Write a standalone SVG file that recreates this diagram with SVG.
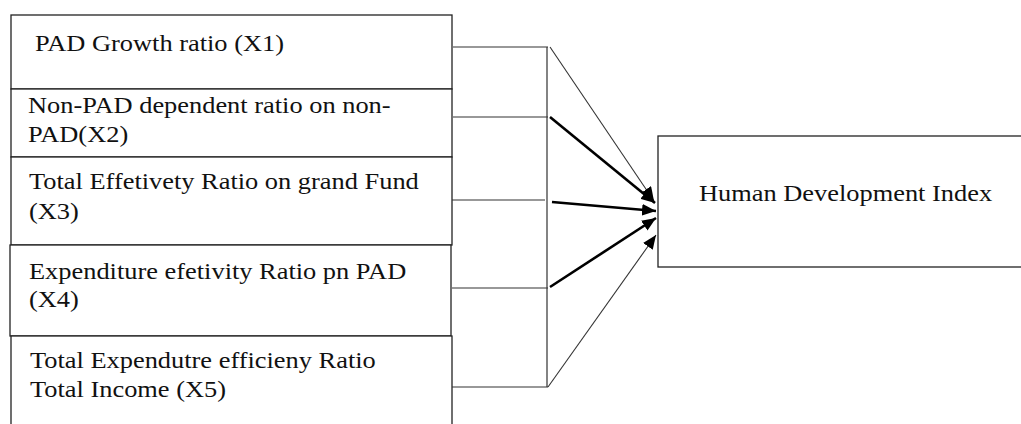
<svg xmlns="http://www.w3.org/2000/svg" width="1021" height="424" viewBox="0 0 1021 424">
  <style>
    .box { fill: #ffffff; stroke: #222222; stroke-width: 1.3; }
    .lbl { font-family: 'Liberation Serif', 'DejaVu Serif', serif; font-size: 24px; fill: #111111; }
    .wire { fill: none; stroke: #333333; stroke-width: 1.2; }
    .thin { fill: none; stroke: #333333; stroke-width: 1.1; }
    .thick { fill: none; stroke: #000000; stroke-width: 2.6; }
  </style>
  <defs>
    <marker id="head" viewBox="0 0 13 11" refX="13" refY="5.5" markerWidth="14" markerHeight="12" markerUnits="userSpaceOnUse" orient="auto">
      <path d="M0,0 L13,5.5 L0,11 Z" fill="#000000"/>
    </marker>
  </defs>
  <rect width="1021" height="424" fill="#ffffff"/>

  <!-- predictor variables -->
  <g id="x1">
    <rect class="box" x="11" y="15" width="441" height="74"/>
    <text class="lbl" font-family="Liberation Serif, serif" transform="translate(35,51) scale(1.1,1)">PAD Growth ratio (X1)</text>
  </g>
  <g id="x2">
    <rect class="box" x="11" y="89" width="441" height="68"/>
    <text class="lbl" font-family="Liberation Serif, serif" transform="translate(28,113) scale(1.1,1)">Non-PAD dependent ratio on non-</text>
    <text class="lbl" font-family="Liberation Serif, serif" transform="translate(28,142) scale(1.1,1)">PAD(X2)</text>
  </g>
  <g id="x3">
    <rect class="box" x="11" y="157" width="441" height="88"/>
    <text class="lbl" font-family="Liberation Serif, serif" transform="translate(29,189) scale(1.1,1)">Total Effetivety Ratio on grand Fund</text>
    <text class="lbl" font-family="Liberation Serif, serif" transform="translate(29,219) scale(1.1,1)">(X3)</text>
  </g>
  <g id="x4">
    <rect class="box" x="10" y="245" width="441" height="91"/>
    <text class="lbl" font-family="Liberation Serif, serif" transform="translate(29,279) scale(1.1,1)">Expenditure efetivity Ratio pn PAD</text>
    <text class="lbl" font-family="Liberation Serif, serif" transform="translate(29,307) scale(1.1,1)">(X4)</text>
  </g>
  <g id="x5">
    <rect class="box" x="11" y="336" width="441" height="100"/>
    <text class="lbl" font-family="Liberation Serif, serif" transform="translate(30,368) scale(1.1,1)">Total Expendutre efficieny Ratio</text>
    <text class="lbl" font-family="Liberation Serif, serif" transform="translate(30,397) scale(1.1,1)">Total Income (X5)</text>
  </g>

  <!-- outcome variable -->
  <g id="hdi">
    <rect class="box" x="658" y="136" width="380" height="131"/>
    <text class="lbl" font-family="Liberation Serif, serif" transform="translate(699,201) scale(1.1,1)">Human Development Index</text>
  </g>

  <!-- connectors -->
  <g id="connectors">
    <path class="wire" d="M453,47 H548 M453,117 H548 M452,200 H545 M452,288 H548 M452,387 H548 M547,47 V387"/>
    <line class="thin" x1="550" y1="47" x2="654" y2="201" marker-end="url(#head)"/>
    <line class="thick" x1="550" y1="117" x2="655" y2="203" marker-end="url(#head)"/>
    <line class="thick" x1="552" y1="202" x2="656" y2="211" marker-end="url(#head)"/>
    <line class="thick" x1="550" y1="287" x2="656" y2="218" marker-end="url(#head)"/>
    <line class="thin" x1="548" y1="387" x2="656" y2="235" marker-end="url(#head)"/>
  </g>
</svg>
